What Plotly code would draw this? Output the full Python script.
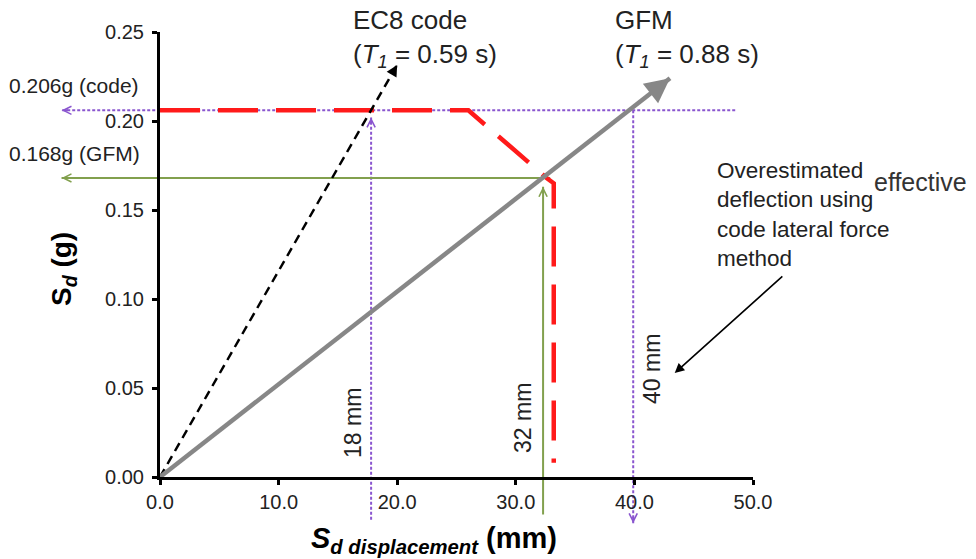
import plotly.graph_objects as go

# ---------------- data ----------------
disp_ticks = [0, 10, 20, 30, 40, 50]
disp_tick_labels = ["0.0", "10.0", "20.0", "30.0", "40.0", "50.0"]
sa_ticks = [0.0, 0.05, 0.10, 0.15, 0.20, 0.25]
sa_tick_labels = ["0.00", "0.05", "0.10", "0.15", "0.20", "0.25"]

# EC8 code design spectrum (red dashed)
spec_x = [0.0, 26.0, 32.6, 33.2, 33.2]
spec_y = [0.206, 0.206, 0.168, 0.165, 0.008]

# EC8 code period line (black dashed arrow)
ec8_x = [0.0, 20.0]
ec8_y = [0.0, 0.2315]

# GFM period line (grey arrow)
gfm_x = [0.0, 43.0]
gfm_y = [0.0, 0.224]

# reference levels
code_level = 0.206
gfm_level = 0.168
code_level_x = [48.5, -8.3]        # purple dotted, arrow to the left
gfm_level_x = [32.9, -8.3]         # green, arrow to the left
d18_x = 17.8
d18_y = [-0.024, 0.202]            # purple dotted, arrow up
d32_x = 32.3
d32_y = [-0.021, 0.163]            # green, arrow up
d40_x = 39.9
d40_y = [0.206, -0.026]            # purple dotted, arrow down

# ---------------- layout geometry ----------------
W, H = 976, 559
X_RANGE = [0, 50]
Y_RANGE = [0, 0.25]
XDOM = [160 / W, 753 / W]
YDOM = [82 / H, 527 / H]


def full_range(r, d):
    span = (r[1] - r[0]) / (d[1] - d[0])
    return [r[0] - d[0] * span, r[1] + (1 - d[1]) * span]


XF = full_range(X_RANGE, XDOM)
YF = full_range(Y_RANGE, YDOM)
KX = W / (XF[1] - XF[0])   # px per mm
KY = H / (YF[1] - YF[0])   # px per g

FONT = "Arial, Liberation Sans, sans-serif"
TXT = "#222222"
PURPLE = "#8a56cf"
GREEN = "#82a04e"
GREY = "#878787"
RED = "#ff1a1a"

fig = go.Figure()

# reference lines on full-frame axes (x / y)
fig.add_trace(go.Scatter(x=code_level_x, y=[code_level, code_level], mode="lines",
                         line=dict(color=PURPLE, width=2, dash="3px,2px"),
                         xaxis="x", yaxis="y", hoverinfo="skip"))
fig.add_trace(go.Scatter(x=[d18_x, d18_x], y=d18_y, mode="lines",
                         line=dict(color=PURPLE, width=2, dash="3px,2px"),
                         xaxis="x", yaxis="y", hoverinfo="skip"))
fig.add_trace(go.Scatter(x=[d40_x, d40_x], y=d40_y, mode="lines",
                         line=dict(color=PURPLE, width=2, dash="3px,2px"),
                         xaxis="x", yaxis="y", hoverinfo="skip"))
fig.add_trace(go.Scatter(x=gfm_level_x, y=[gfm_level, gfm_level], mode="lines",
                         line=dict(color=GREEN, width=2),
                         xaxis="x", yaxis="y", hoverinfo="skip"))
fig.add_trace(go.Scatter(x=[d32_x, d32_x], y=d32_y, mode="lines",
                         line=dict(color=GREEN, width=2),
                         xaxis="x", yaxis="y", hoverinfo="skip"))

# main curves on visible axes (x2 / y2)
fig.add_trace(go.Scatter(x=spec_x, y=spec_y, mode="lines",
                         line=dict(color=RED, width=4.5, dash="40px,18px"),
                         xaxis="x2", yaxis="y2", hoverinfo="skip"))
fig.add_trace(go.Scatter(x=ec8_x, y=ec8_y, mode="lines",
                         line=dict(color="black", width=2.5, dash="9px,6px"),
                         xaxis="x2", yaxis="y2", hoverinfo="skip"))
fig.add_trace(go.Scatter(x=gfm_x, y=gfm_y, mode="lines",
                         line=dict(color=GREY, width=4.5),
                         xaxis="x2", yaxis="y2", hoverinfo="skip"))

annotations = []


def head(tip_x, tip_y, from_x, from_y, color, width, style, size, length=8):
    dxp = (from_x - tip_x) * KX
    dyp = -(from_y - tip_y) * KY
    n = (dxp ** 2 + dyp ** 2) ** 0.5
    annotations.append(dict(x=tip_x, y=tip_y, xref="x", yref="y",
                            ax=dxp / n * length, ay=dyp / n * length,
                            showarrow=True, arrowhead=style, arrowsize=size,
                            arrowwidth=width, arrowcolor=color, text=""))


head(code_level_x[1], code_level, code_level_x[0], code_level, PURPLE, 2, 5, 0.8)
head(gfm_level_x[1], gfm_level, gfm_level_x[0], gfm_level, GREEN, 2, 5, 0.8)
head(d18_x, d18_y[1], d18_x, d18_y[0], PURPLE, 2, 5, 0.8)
head(d32_x, d32_y[1], d32_x, d32_y[0], GREEN, 2, 5, 0.8)
head(d40_x, d40_y[1], d40_x, d40_y[0], PURPLE, 2, 5, 0.8)
head(ec8_x[1], ec8_y[1], ec8_x[0], ec8_y[0], "black", 2.5, 2, 0.9, length=10)
head(gfm_x[1], gfm_y[1], gfm_x[0], gfm_y[0], GREY, 4.5, 2, 1.1, length=14)

# pointer arrow for the note
annotations.append(dict(x=43.4, y=0.0584, xref="x", yref="y",
                        ax=52.6, ay=0.1135, axref="x", ayref="y",
                        showarrow=True, arrowhead=2, arrowsize=1.2,
                        arrowwidth=1.6, arrowcolor="black", text=""))


def label(text, px, py, size, xanchor="left", angle=0, color=TXT, align="left"):
    annotations.append(dict(text=text, x=px / W, y=1 - py / H, xref="paper", yref="paper",
                            xanchor=xanchor, yanchor="middle", showarrow=False,
                            textangle=angle, align=align,
                            font=dict(family=FONT, size=size, color=color)))


label("0.206g (code)", 7, 85, 21)
label("0.168g (GFM)", 7, 153, 21)
label("EC8 code<br>(<i>T<sub>1</sub></i> = 0.59 s)", 351, 38, 26)
label("GFM<br>(<i>T<sub>1</sub></i> = 0.88 s)", 613, 38, 26)
label("Overestimated<br>deflection using<br>code lateral force<br>method", 715, 215, 22.5)
label("effective", 872, 182, 25, color="#333333")
label("18 mm", 353, 423, 23, xanchor="center", angle=-90)
label("32 mm", 523, 418, 23, xanchor="center", angle=-90)
label("40 mm", 652, 369, 23, xanchor="center", angle=-90)
label("<b>S<sub><i>d</i></sub> (g)</b>", 64, 269, 28, xanchor="center", angle=-90, color="black")
label("<b><i>S<sub>d displacement</sub></i> (mm)</b>", 434, 540, 29, xanchor="center", color="black")

hidden = dict(visible=False, showgrid=False, zeroline=False, fixedrange=True, automargin=False)
axis_style = dict(showline=True, linecolor="black", linewidth=3, ticks="outside",
                  ticklen=5, tickwidth=3, tickcolor="black", showgrid=False,
                  zeroline=False, fixedrange=True, automargin=False,
                  tickfont=dict(family=FONT, size=20, color=TXT))

fig.update_layout(
    width=W, height=H, autosize=False,
    margin=dict(l=0, r=0, t=0, b=0, pad=0, autoexpand=False),
    paper_bgcolor="white", plot_bgcolor="rgba(0,0,0,0)",
    showlegend=False,
    xaxis=dict(domain=[0, 1], range=XF, anchor="y", **hidden),
    yaxis=dict(domain=[0, 1], range=YF, anchor="x", **hidden),
    xaxis2=dict(domain=XDOM, range=X_RANGE, anchor="y2",
                tickvals=disp_ticks, ticktext=disp_tick_labels, **axis_style),
    yaxis2=dict(domain=YDOM, range=Y_RANGE, anchor="x2", ticklabelstandoff=4,
                tickvals=sa_ticks, ticktext=sa_tick_labels, **axis_style),
    annotations=annotations,
)

fig.write_html("out.html")
